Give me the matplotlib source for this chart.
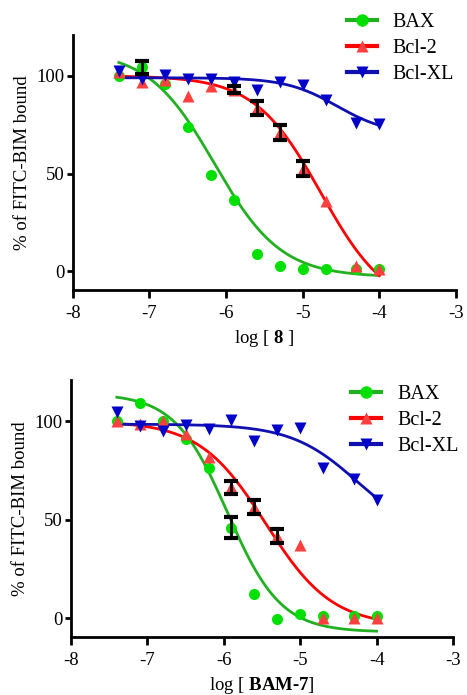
import numpy as np
import matplotlib
matplotlib.use('Agg')
import matplotlib.pyplot as plt

plt.rcParams['font.family'] = ['Liberation Serif', 'DejaVu Serif']
plt.rcParams['mathtext.fontset'] = 'custom'
plt.rcParams['mathtext.rm'] = 'Liberation Serif'
plt.rcParams['mathtext.bf'] = 'Liberation Serif:bold'
plt.rcParams['axes.unicode_minus'] = False

# log concentration (same for both panels)
logc = [-7.4, -7.1, -6.8, -6.5, -6.2, -5.9, -5.6, -5.3, -5.0, -4.7, -4.3, -4.0]

# panel 1 : compound 8
bax_1 = [100, 104.3, 95.6, 73.8, 49, 36.5, 8.7, 2.9, 1.2, 1.2, 1.0, 1.2]
bcl2_1 = [101.7, 97, 98, 89.8, 95, 92.8, 83.5, 71, 52.5, 36, 2.6, 1.0]
bclxl_1 = [102.7, 98.3, 100.5, 98.6, 98.6, 97, 92.8, 96.6, 95.4, 87.7, 75.8, 75.5]
bax_err_1 = [0, 3.5, 0, 0, 0, 0, 0, 0, 0, 0, 0, 0]
bcl2_err_1 = [0, 0, 0, 0, 0, 1.8, 3.6, 3.7, 3.7, 0, 0, 0]

# panel 2 : BAM-7
bax_2 = [100, 109, 100, 90.8, 76.3, 46, 12.4, -0.3, 2, 0.9, 1.0, 0.9]
bcl2_2 = [100, 98.5, 100, 93.7, 81.8, 66.4, 56.6, 41.7, 37, 0, 0, 0]
bclxl_2 = [104.8, 97.6, 94.9, 98, 96, 100.5, 89.8, 95.4, 96.3, 76.1, 70.7, 60.1]
bax_err_2 = [0, 0, 0, 0, 0, 5.4, 0, 0, 0, 0, 0, 0]
bcl2_err_2 = [0, 0, 0, 0, 0, 3.4, 3.5, 3.7, 0, 0, 0, 0]

# fitted curves: top, bottom, logIC50, hill
fit_1 = {'BAX': (113, -3, -6.15, 1.0), 'Bcl-2': (100, -20, -4.76, 1.0), 'Bcl-XL': (99, 70, -4.55, 1.3)}
fit_2 = {'BAX': (114, -7, -5.95, 1.25), 'Bcl-2': (100, -4, -5.45, 1.0), 'Bcl-XL': (98.5, 40, -4.25, 1.0)}

names = ['BAX', 'Bcl-2', 'Bcl-XL']
mark_col = {'BAX': '#00E000', 'Bcl-2': '#FF4040', 'Bcl-XL': '#0000C8'}
line_col = {'BAX': '#22B022', 'Bcl-2': '#FF0000', 'Bcl-XL': '#1010B0'}
markers = {'BAX': 'o', 'Bcl-2': '^', 'Bcl-XL': 'v'}


def logistic(x, top, bot, c, h):
    return bot + (top - bot) / (1 + 10 ** ((x - c) * h))


def panel(ax, ys, errs, fit, xlabel, leg_anchor):
    xs = np.linspace(-7.4, -4.0, 200)
    handles = []
    for n, y in zip(names, ys):
        ax.plot(xs, logistic(xs, *fit[n]), color=line_col[n], lw=2, zorder=2)
        ax.plot(logc, y, ls='none', marker=markers[n], ms=8, color=mark_col[n], mec='none', zorder=3)
        h, = ax.plot([], [], color=line_col[n], lw=3, marker=markers[n], ms=9,
                     mfc=mark_col[n], mec='none')
        handles.append(h)
    for n, y, e in errs:
        x = np.array(logc)
        y = np.array(y)
        e = np.array(e)
        m = e > 0
        ax.errorbar(x[m], y[m], yerr=e[m], fmt='none', ecolor='black', elinewidth=2,
                    capsize=5, capthick=3, zorder=4)
    ax.set_xlim(-8, -3)
    ax.set_ylim(-9.5, 121)
    ax.set_xticks([-8, -7, -6, -5, -4, -3])
    ax.set_yticks([0, 50, 100])
    ax.spines['top'].set_visible(False)
    ax.spines['right'].set_visible(False)
    for s in ['left', 'bottom']:
        ax.spines[s].set_linewidth(2)
    ax.tick_params(axis='x', width=2, length=6, labelsize=13.5, pad=5)
    ax.tick_params(axis='y', width=2, length=4, labelsize=13.5, pad=2)
    ax.set_ylabel('% of FITC-BIM bound', fontsize=13.5, labelpad=4)
    ax.set_xlabel(xlabel, fontsize=13.5, labelpad=4)
    ax.legend(handles, names, loc='upper right', bbox_to_anchor=leg_anchor,
              bbox_transform=ax.figure.transFigure, frameon=False, fontsize=14.5,
              handlelength=1.5, handletextpad=0.8, labelspacing=0.35, borderaxespad=0)


fig = plt.figure(figsize=(4.67, 6.95), dpi=100)
ax1 = fig.add_axes([0.156, 0.583, 0.82, 0.367])
ax2 = fig.add_axes([0.152, 0.0835, 0.818, 0.37])

panel(ax1, [bax_1, bcl2_1, bclxl_1], [('BAX', bax_1, bax_err_1), ('Bcl-2', bcl2_1, bcl2_err_1)],
      fit_1, r'log [ $\mathbf{8}$ ]', (0.99, 0.993))
panel(ax2, [bax_2, bcl2_2, bclxl_2], [('BAX', bax_2, bax_err_2), ('Bcl-2', bcl2_2, bcl2_err_2)],
      fit_2, 'log [ $\\mathbf{BAM\u20107}$]', (1.0, 0.458))

fig.savefig('out.png', dpi=100)
